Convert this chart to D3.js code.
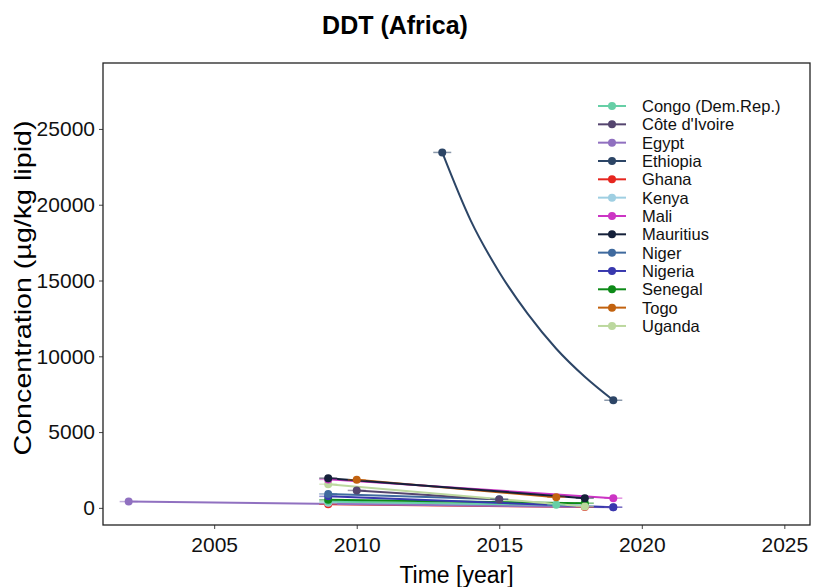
<!DOCTYPE html>
<html>
<head>
<meta charset="utf-8">
<script src="https://cdn.jsdelivr.net/npm/d3@7"></script>
<style>
  body { margin: 0; background: #fff; }
  text { font-family: "Liberation Sans", Arial, sans-serif; }
</style>
</head>
<body>
<div id="chart"></div>
<script>
// countries in legend order
const countries = ["Congo (Dem.Rep.)", "Côte d'Ivoire", "Egypt", "Ethiopia", "Ghana", "Kenya",
  "Mali", "Mauritius", "Niger", "Nigeria", "Senegal", "Togo", "Uganda"];
const colors = ["#66cfa6", "#55456f", "#9070c0", "#2c4566", "#e6261f", "#9fcfe2",
  "#cc35c4", "#15203a", "#3f6a9e", "#3838ae", "#0d8a18", "#c2620f", "#bcd89e"];

// first and last sampling (year, concentration µg/kg lipid)
const firstYear  = [2009, 2010, 2002, 2013, 2009, 2009, 2009, 2009, 2009, 2009, 2009, 2010, 2009];
const firstValue = [420, 1150, 415, 23450, 240, 330, 1880, 1960, 920, 760, 530, 1850, 1560];
const lastYear   = [2017, 2015, 2019, 2019, 2018, 2018, 2019, 2018, 2015, 2019, 2018, 2017, 2018];
const lastValue  = [200, 560, 40, 7100, 60, 150, 640, 640, 570, 45, 310, 700, 90];

// Ethiopia trend curve
const ethiopiaYears  = [2013, 2014, 2015, 2016, 2017, 2018, 2019];
const ethiopiaValues = [23450, 18950, 15550, 12800, 10500, 8650, 7100];

const xTicks = [2005, 2010, 2015, 2020, 2025];
const yTicks = [0, 5000, 10000, 15000, 20000, 25000];

(function () {
    const width = 813, height = 587;
    const margin = { left: 103, right: 3, top: 63, bottom: 62 };

    const svg = d3.select("#chart").append("svg")
        .attr("width", width)
        .attr("height", height);

    const x = d3.scaleLinear()
        .domain([2001.1, 2025.9])
        .range([margin.left, width - margin.right]);
    const y = d3.scaleLinear()
        .domain([-1130, 29350])
        .range([height - margin.bottom, margin.top]);

    // axes
    const xAxis = svg.append("g")
        .attr("transform", `translate(0,${height - margin.bottom})`)
        .call(d3.axisBottom(x).tickValues(xTicks).tickFormat(d3.format("d")).tickSize(4).tickPadding(8));
    const yAxis = svg.append("g")
        .attr("transform", `translate(${margin.left},0)`)
        .call(d3.axisLeft(y).tickValues(yTicks).tickFormat(d3.format("d")).tickSize(4).tickPadding(4));
    [xAxis, yAxis].forEach(a => {
        a.select(".domain").remove();
        a.selectAll(".tick line").attr("stroke", "#444");
        a.selectAll(".tick text").attr("fill", "#111").style("font-size", "21px");
    });

    // clip so nothing leaks outside the panel
    svg.append("clipPath").attr("id", "clip")
        .append("rect")
        .attr("x", margin.left).attr("y", margin.top)
        .attr("width", width - margin.left - margin.right)
        .attr("height", height - margin.top - margin.bottom);

    const plot = svg.append("g").attr("clip-path", "url(#clip)");
    const line = d3.line().x(d => x(d[0])).y(d => y(d[1])).curve(d3.curveMonotoneX);

    // lines, drawn so that the bigger values end up on top
    const order = d3.range(countries.length).sort((a, b) => firstValue[a] - firstValue[b]);
    order.forEach(i => {
        const pts = countries[i] === "Ethiopia"
            ? ethiopiaYears.map((yr, k) => [yr, ethiopiaValues[k]])
            : [[firstYear[i], firstValue[i]], [lastYear[i], lastValue[i]]];
        plot.append("path")
            .datum(pts)
            .attr("d", line)
            .attr("fill", "none")
            .attr("stroke", colors[i])
            .attr("stroke-width", 2);
    });

    // points with short horizontal whiskers
    order.forEach(i => {
        [[firstYear[i], firstValue[i]], [lastYear[i], lastValue[i]]].forEach(p => {
            plot.append("line")
                .attr("x1", x(p[0]) - 9).attr("x2", x(p[0]) + 9)
                .attr("y1", y(p[1])).attr("y2", y(p[1]))
                .attr("stroke", colors[i]).attr("stroke-opacity", 0.55)
                .attr("stroke-width", 1.5);
            plot.append("circle")
                .attr("cx", x(p[0])).attr("cy", y(p[1]))
                .attr("r", 4)
                .attr("fill", colors[i]);
        });
    });

    // panel border
    svg.append("rect")
        .attr("x", margin.left).attr("y", margin.top)
        .attr("width", width - margin.left - margin.right)
        .attr("height", height - margin.top - margin.bottom)
        .attr("fill", "none")
        .attr("stroke", "#222")
        .attr("stroke-width", 1.3);

    // titles
    svg.append("text")
        .attr("x", 395).attr("y", 34)
        .attr("text-anchor", "middle")
        .style("font-size", "25px").style("font-weight", "bold")
        .text("DDT (Africa)");
    svg.append("text")
        .attr("x", (margin.left + width - margin.right) / 2).attr("y", 583)
        .attr("text-anchor", "middle")
        .style("font-size", "23px")
        .text("Time [year]");
    svg.append("text")
        .attr("transform", `translate(31,${(margin.top + height - margin.bottom) / 2 - 6}) rotate(-90)`)
        .attr("text-anchor", "middle")
        .attr("textLength", 335)
        .attr("lengthAdjust", "spacingAndGlyphs")
        .style("font-size", "24px")
        .text("Concentration (µg/kg lipid)");

    // legend
    const legend = svg.append("g").attr("transform", "translate(598,106)");
    countries.forEach((c, i) => {
        const g = legend.append("g").attr("transform", `translate(0,${i * 18.33})`);
        g.append("line").attr("x1", 0).attr("x2", 28)
            .attr("stroke", colors[i]).attr("stroke-width", 2);
        g.append("circle").attr("cx", 14).attr("r", 4).attr("fill", colors[i]);
        g.append("text").attr("x", 44).attr("y", 6)
            .style("font-size", "16.5px").attr("fill", "#111")
            .text(c);
    });
})();
</script>
</body>
</html>
